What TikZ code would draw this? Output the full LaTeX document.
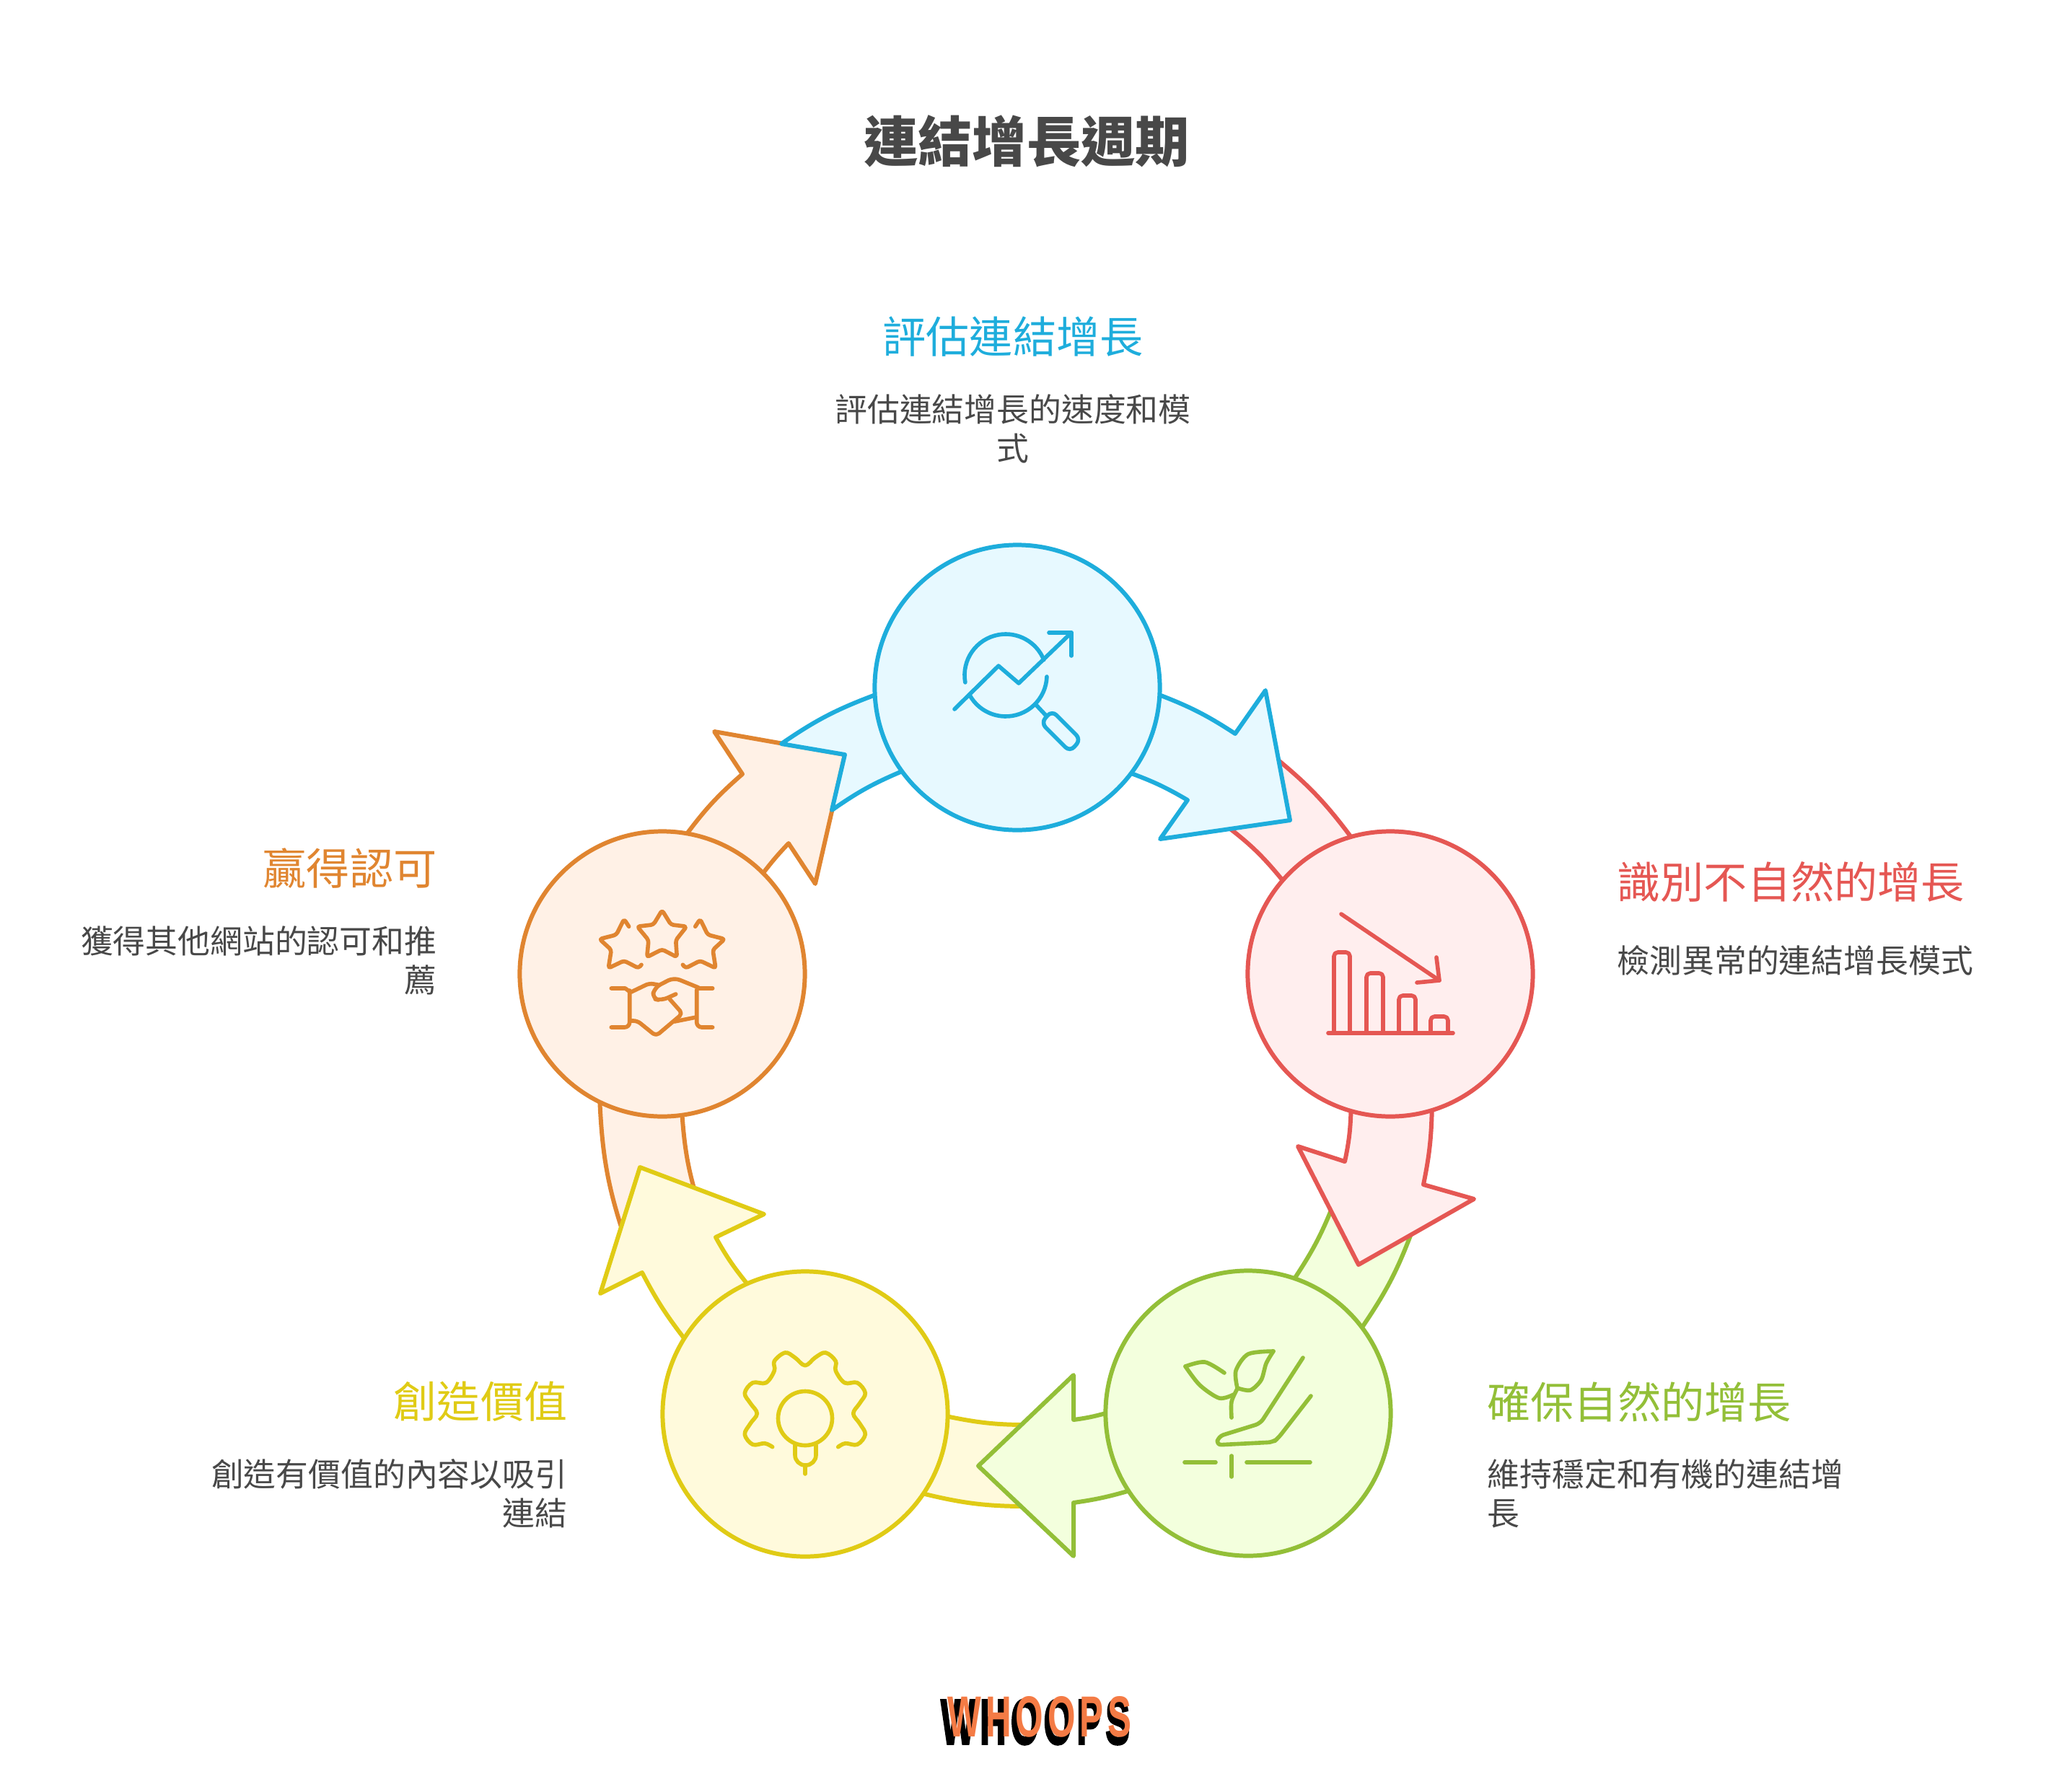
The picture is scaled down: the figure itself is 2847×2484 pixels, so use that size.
\documentclass[tikz,border=0pt]{standalone}
\usepackage{fontspec}
\setmainfont{Noto Sans CJK TC}
\newfontfamily\logofont[LetterSpace=12]{Liberation Sans}
\newfontfamily\logoshadow[LetterSpace=12, BoldFeatures={FakeBold=3}]{Liberation Sans}
\usetikzlibrary{backgrounds}

\definecolor{bluestroke}{HTML}{1EADDC}
\definecolor{bluefill}{HTML}{E7F9FF}
\definecolor{redstroke}{HTML}{E55753}
\definecolor{redfill}{HTML}{FFEEEE}
\definecolor{greenstroke}{HTML}{93BF38}
\definecolor{greenfill}{HTML}{F3FFDD}
\definecolor{yellowstroke}{HTML}{E0CB15}
\definecolor{yellowfill}{HTML}{FFFADC}
\definecolor{orangestroke}{HTML}{E08530}
\definecolor{orangefill}{HTML}{FFF1E6}
\definecolor{bodygray}{HTML}{484848}
\definecolor{logoorange}{HTML}{F47B45}

\tikzset{
  stepcircle/.style={circle, minimum size=3.95cm, inner sep=0pt, outer sep=0pt,
    draw=#1stroke, fill=#1fill, line width=1.7pt},
  ringarrow/.style={draw=#1stroke, fill=#1fill, line width=1.7pt, line join=round},
  iconline/.style={draw=#1stroke, line width=1.6pt, line cap=round, line join=round},
  headtext/.style={inner sep=0pt, font=\fontsize{17.1}{20}\selectfont, text=#1stroke},
  bodytext/.style={inner sep=0pt, text=bodygray, font=\fontsize{12.75}{15.4}\selectfont}
}

\begin{document}
\begin{tikzpicture}[x=0.01cm, y=-0.01cm]
  \useasboundingbox (0,0) rectangle (2847,2484);

  % Titulo
  \node[inner sep=0pt, text=bodygray, font=\fontsize{21.4}{25}\selectfont\bfseries] (title) at (1423,196) {連結增長週期};

  % Circulos
  \node[stepcircle=blue] (assess) at (1410,953) {};
  \node[stepcircle=red] (detect) at (1927,1350) {};
  \node[stepcircle=green] (ensure) at (1730,1959) {};
  \node[stepcircle=yellow] (create) at (1116,1960) {};
  \node[stepcircle=orange] (earn) at (918,1350) {};

  % Flechas, debajo de los circulos
  \begin{pgfonlayer}{background}
    % naranja
    \draw[ringarrow=orange] (earn.244.5) to[bend right=8] (868,1722) -- (972,1680) to[bend left=7] (earn.278.3) -- cycle;
    \draw[ringarrow=orange] (earn.80) to[bend left=6] (1029,1073) -- (990,1014) -- (1171,1046) -- (1130,1225) -- (1093,1169) to[bend right=3] (earn.45.6) -- cycle;
    % amarilla
    \draw[ringarrow=yellow] (create.-34.6) to[bend right=7] (1430,2088) -- (1430,1975) to[bend left=6] (create.-1.4) -- cycle;
    \draw[ringarrow=yellow] (create.148.4) to[bend left=5] (890,1764) -- (832,1793) -- (887,1618) -- (1059,1683) -- (992,1715) to[bend right=5] (create.114.7) -- cycle;
    % verde
    \draw[ringarrow=green] (ensure.37.7) to[bend right=7] (1959,1702) -- (1850,1665) to[bend left=6] (ensure.71.6) -- cycle;
    \draw[ringarrow=green] (ensure.213) to[bend left=4] (1488,2083) -- (1488,2157) -- (1356,2032) -- (1488,1906) -- (1488,1968) to[bend right=4] (ensure.180) -- cycle;
    % roja
    \draw[ringarrow=red] (detect.106) to[bend right=7] (1766,1049) -- (1696,1142) to[bend left=7] (detect.139.7) -- cycle;
    \draw[ringarrow=red] (detect.287.8) to[bend left=5] (1973,1642) -- (2043,1662) -- (1883,1753) -- (1799,1589) -- (1864,1610) to[bend right=5] (detect.254.3) -- cycle;
    % azul
    \draw[ringarrow=blue] (assess.183.5) to[bend right=7] (1083,1031) -- (1171,1046) -- (1153,1123) to[bend left=6] (assess.216.7) -- cycle;
    \draw[ringarrow=blue] (assess.-3.5) to[bend left=6] (1712,1017) -- (1754,957) -- (1788,1137) -- (1608,1163) -- (1646,1109) to[bend right=5] (assess.-37) -- cycle;
  \end{pgfonlayer}

  % Icono azul
  \draw[iconline=blue] (1323,983) -- (1384,923) -- (1412,947) -- (1485,877);
  \draw[iconline=blue] (1454,877) -- (1485,877) -- (1485,909);
  \draw[iconline=blue] (1394,936) ++(170:57) arc[start angle=170, end angle=338, radius=57];
  \draw[iconline=blue] (1394,936) ++(2:57) arc[start angle=2, end angle=152, radius=57];
  \draw[iconline=blue] (1436,977) -- (1450,992);
  \draw[iconline=blue, rounded corners=2.5pt] (1458,985) -- (1498,1025) -- (1483,1042) -- (1443,1002) -- cycle;

  % Icono rojo
  \draw[iconline=red] (1841,1432) -- (2014,1432);
  \draw[iconline=red, rounded corners=1.5pt] (1849,1432) -- (1849,1320) -- (1871,1320) -- (1871,1432);
  \draw[iconline=red, rounded corners=1.5pt] (1894,1432) -- (1894,1349) -- (1917,1349) -- (1917,1432);
  \draw[iconline=red, rounded corners=1.5pt] (1939,1432) -- (1939,1380) -- (1962,1380) -- (1962,1432);
  \draw[iconline=red, rounded corners=1.5pt] (1983,1432) -- (1983,1409) -- (2007,1409) -- (2007,1432);
  \draw[iconline=red] (1859,1267) -- (1995,1359);
  \draw[iconline=red] (1991,1327) -- (1995,1359) -- (1964,1362);

  % Icono verde
  \draw[iconline=green] plot[smooth] coordinates {(1643,1894) (1670,1888) (1697,1903)};
  \draw[iconline=green] plot[smooth] coordinates {(1643,1894) (1663,1920) (1690,1938) (1710,1933)};
  \draw[iconline=green] plot[smooth] coordinates {(1707,1965) (1707,1943) (1715,1925)};
  \draw[iconline=green] plot[smooth] coordinates {(1765,1873) (1730,1877) (1713,1900) (1715,1924)};
  \draw[iconline=green] plot[smooth] coordinates {(1765,1873) (1755,1890) (1748,1913) (1733,1927) (1715,1924)};
  \draw[iconline=green, rounded corners=2pt] (1806,1882) -- (1747,1973) -- (1689,1991) -- (1686,2003) -- (1765,1999) -- (1772,1993) -- (1817,1935);
  \draw[iconline=green] (1642,2027) -- (1685,2027);
  \draw[iconline=green] (1728,2027) -- (1816,2027);
  \draw[iconline=green] (1707,2018) -- (1707,2047);

  % Icono amarillo
  \draw[iconline=yellow] (1116,1966) circle (37.5);
  \draw[iconline=yellow, rounded corners=4pt] (1102,2003) -- (1102,2031) -- (1131,2031) -- (1131,2003);
  \draw[iconline=yellow] (1116,2033) -- (1116,2043);
  \draw[iconline=yellow] plot[smooth, tension=0.6] coordinates {(1070.7,2005.7) (1060,2000.7) (1043.3,2002.3) (1032.3,1988.3) (1040,1973.3) (1049.3,1959.3) (1040,1945) (1032.3,1931) (1043.3,1916.7) (1061.7,1916.7) (1073.3,1900) (1073.3,1886.7) (1088.3,1875) (1101.7,1881.7) (1116,1892.7) (1130,1881.7) (1144.3,1875) (1158.3,1886.7) (1158.3,1900) (1170.7,1916.7) (1188.3,1916.7) (1199.3,1931) (1191.7,1945) (1182.7,1959.3) (1191.7,1973.3) (1199.3,1988.3) (1188.3,2002.3) (1171.7,2000.7) (1161.7,2005.7)};

  % Icono naranja
  \draw[iconline=orange, rounded corners=1pt] (917.7,1261.7) -- (930,1281.7) -- (951.7,1284.3) -- (936.7,1303.3) -- (938.3,1326.7) -- (917.7,1316) -- (896.7,1326.7) -- (899,1303.3) -- (883.3,1284.3) -- (905.7,1281.7) -- cycle;
  \draw[iconline=orange, rounded corners=1pt] (871.7,1284.3) -- (865,1274) -- (854.3,1295.7) -- (831,1301.7) -- (847.3,1316.7) -- (843.3,1342) -- (865,1331.7) -- (885,1342) -- (889,1337.3);
  \draw[iconline=orange, rounded corners=1pt] (963.7,1284.3) -- (970.4,1274) -- (981,1295.7) -- (1004.4,1301.7) -- (988,1316.7) -- (992,1342) -- (970.4,1331.7) -- (950.4,1342) -- (946.4,1337.3);
  \draw[iconline=orange] (847.3,1370) -- (866.7,1370) -- (873.3,1375);
  \draw[iconline=orange, rounded corners=2pt] (872.7,1373) -- (872.7,1424) -- (847.3,1424);
  \draw[iconline=orange] (987.7,1370) -- (968.3,1370);
  \draw[iconline=orange, rounded corners=2pt] (965.7,1372) -- (965.7,1424) -- (987.7,1424);
  \draw[iconline=orange, rounded corners=1.5pt] (875,1375) -- (900,1363) -- (911.7,1365);
  \draw[iconline=orange, rounded corners=2.5pt] (968.3,1369) -- (934,1355) -- (907,1369) -- (904,1384) -- (916.7,1387) -- (936.7,1378);
  \draw[iconline=orange, rounded corners=1.5pt] (928.3,1385) -- (946,1405) -- (909.3,1436) -- (883.3,1415) -- (872.7,1415);
  \draw[iconline=orange] (935,1416) -- (965,1410);

  % Textos
  \node[headtext=blue] (assesshead) at (1404,467) {評估連結增長};
  \node[bodytext, align=center] (assessbody) at (1404,594) {評估連結增長的速度和模\\式};
  \node[headtext=red, anchor=west] (detecthead) at (2241,1222) {識別不自然的增長};
  \node[bodytext, anchor=west, align=left] (detectbody) at (2241,1331) {檢測異常的連結增長模式};
  \node[headtext=green, anchor=west] (ensurehead) at (2061,1943) {確保自然的增長};
  \node[bodytext, anchor=west, align=left] (ensurebody) at (2061,2070) {維持穩定和有機的連結增\\長};
  \node[headtext=yellow, anchor=east] (createhead) at (787,1943) {創造價值};
  \node[bodytext, anchor=east, align=right] (createbody) at (787,2070) {創造有價值的內容以吸引\\連結};
  \node[headtext=orange, anchor=east] (earnhead) at (606,1204) {贏得認可};
  \node[bodytext, anchor=east, align=right] (earnbody) at (606,1331) {獲得其他網站的認可和推\\薦};

  % Logo
  \node[inner sep=0pt, text=logoorange] (logo) at (1441,2380) {\resizebox{2.55cm}{0.56cm}{\logofont\bfseries WHOOPS}};
  \begin{pgfonlayer}{background}
    \node[inner sep=0pt, text=black] (logoback) at (1435,2387) {\resizebox{2.62cm}{0.62cm}{\logoshadow\bfseries WHOOPS}};
  \end{pgfonlayer}
\end{tikzpicture}
\end{document}
